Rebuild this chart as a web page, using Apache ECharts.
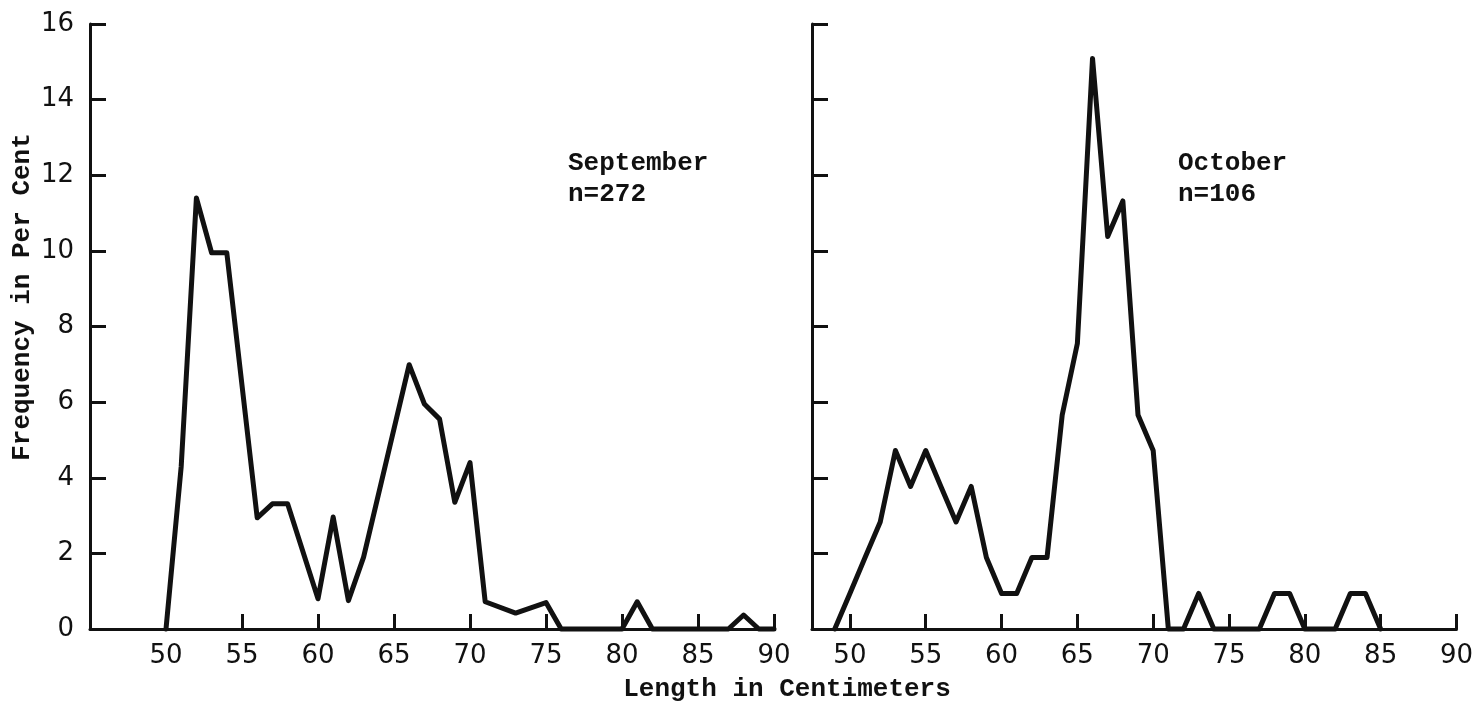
<!DOCTYPE html>
<html>
<head>
<meta charset="utf-8">
<title>Length frequency, September and October</title>
<script src="https://cdn.jsdelivr.net/npm/echarts@6/dist/echarts.min.js"></script>
<style>
  html, body { margin: 0; padding: 0; background: #ffffff; }
  #chart { width: 1476px; height: 711px; }
</style>
</head>
<body>
<div id="chart"></div>
<script>
// Length classes (cm) and frequency (per cent) for each month
const sepLengths = [50, 51, 52, 53, 54, 56, 57, 58, 60, 61, 62, 63, 66, 67, 68, 69, 70, 71, 73, 75, 76, 80, 81, 82, 87, 88, 89, 90];
const sepFreq    = [0, 4.3, 11.4, 9.95, 9.95, 2.94, 3.31, 3.31, 0.8, 2.96, 0.75, 1.9, 6.99, 5.95, 5.55, 3.35, 4.4, 0.72, 0.42, 0.7, 0, 0, 0.72, 0, 0, 0.37, 0, 0];

const octLengths = [49, 50, 51, 52, 53, 54, 55, 56, 57, 58, 59, 60, 61, 62, 63, 64, 65, 66, 67, 68, 69, 70, 71, 72, 73, 74, 77, 78, 79, 80, 82, 83, 84, 85];
const octFreq    = [0, 0.94, 1.89, 2.83, 4.72, 3.77, 4.72, 3.77, 2.83, 3.77, 1.89, 0.94, 0.94, 1.89, 1.89, 5.66, 7.55, 15.09, 10.38, 11.32, 5.66, 4.72, 0, 0, 0.94, 0, 0, 0.94, 0.94, 0, 0, 0.94, 0.94, 0];

const xTicks = [50, 55, 60, 65, 70, 75, 80, 85, 90];
const yTicks = [0, 2, 4, 6, 8, 10, 12, 14, 16];

const monthLabels = ['September\nn=272', 'October\nn=106'];
const yTitle = 'Frequency in Per Cent';
const xTitle = 'Length in Centimeters';

const ink = '#111111';
const tickFont = 'DejaVu Sans';
const typeFont = 'Liberation Mono';

function pairs(xs, ys) {
  return xs.map((x, i) => [x, ys[i]]);
}

function xAxisFor(gridIndex, min) {
  return {
    type: 'value',
    gridIndex: gridIndex,
    min: min,
    max: 90,
    axisLine: { show: true, onZero: false, lineStyle: { color: ink, width: 3 } },
    axisTick: { show: true, inside: true, length: 15, customValues: xTicks, lineStyle: { color: ink, width: 3 } },
    axisLabel: { customValues: xTicks, color: ink, fontFamily: tickFont, fontSize: 26, margin: 14 },
    splitLine: { show: false }
  };
}

function yAxisFor(gridIndex, showLabels) {
  return {
    type: 'value',
    gridIndex: gridIndex,
    min: 0,
    max: 16,
    interval: 2,
    axisLine: { show: true, lineStyle: { color: ink, width: 3 } },
    axisTick: { show: true, inside: true, length: 16, lineStyle: { color: ink, width: 3 } },
    axisLabel: { show: showLabels, color: ink, fontFamily: tickFont, fontSize: 26, margin: 16 },
    splitLine: { show: false }
  };
}

function lineSeries(index, data) {
  return {
    type: 'line',
    xAxisIndex: index,
    yAxisIndex: index,
    data: data,
    showSymbol: false,
    symbol: 'none',
    clip: false,
    z: 3,
    lineStyle: { color: ink, width: 5, join: 'round', cap: 'round' },
    animation: false
  };
}

function typed(text, x, y, extra) {
  return Object.assign({
    type: 'text',
    x: x,
    y: y,
    style: {
      text: text,
      fill: ink,
      font: 'bold 26px "' + typeFont + '"',
      lineHeight: 31,
      textAlign: 'left',
      textVerticalAlign: 'top'
    }
  }, extra || {});
}

const chart = echarts.init(document.getElementById('chart'), null, { renderer: 'canvas' });

chart.setOption({
  backgroundColor: '#ffffff',
  animation: false,
  grid: [
    { left: 90, right: 702, top: 24, bottom: 82 },
    { left: 812, right: 15, top: 24, bottom: 82 }
  ],
  xAxis: [xAxisFor(0, 45), xAxisFor(1, 47.5)],
  yAxis: [yAxisFor(0, true), yAxisFor(1, false)],
  series: [
    lineSeries(0, pairs(sepLengths, sepFreq)),
    lineSeries(1, pairs(octLengths, octFreq))
  ],
  graphic: [
    typed(monthLabels[0], 568, 148),
    typed(monthLabels[1], 1178, 148),
    typed(xTitle, 787, 689, {
      style: { text: xTitle, fill: ink, font: 'bold 26px "' + typeFont + '"', textAlign: 'center', textVerticalAlign: 'middle' }
    }),
    typed(yTitle, 22, 297, {
      rotation: Math.PI / 2,
      style: { text: yTitle, fill: ink, font: 'bold 26px "' + typeFont + '"', textAlign: 'center', textVerticalAlign: 'middle' }
    })
  ]
});
</script>
</body>
</html>
